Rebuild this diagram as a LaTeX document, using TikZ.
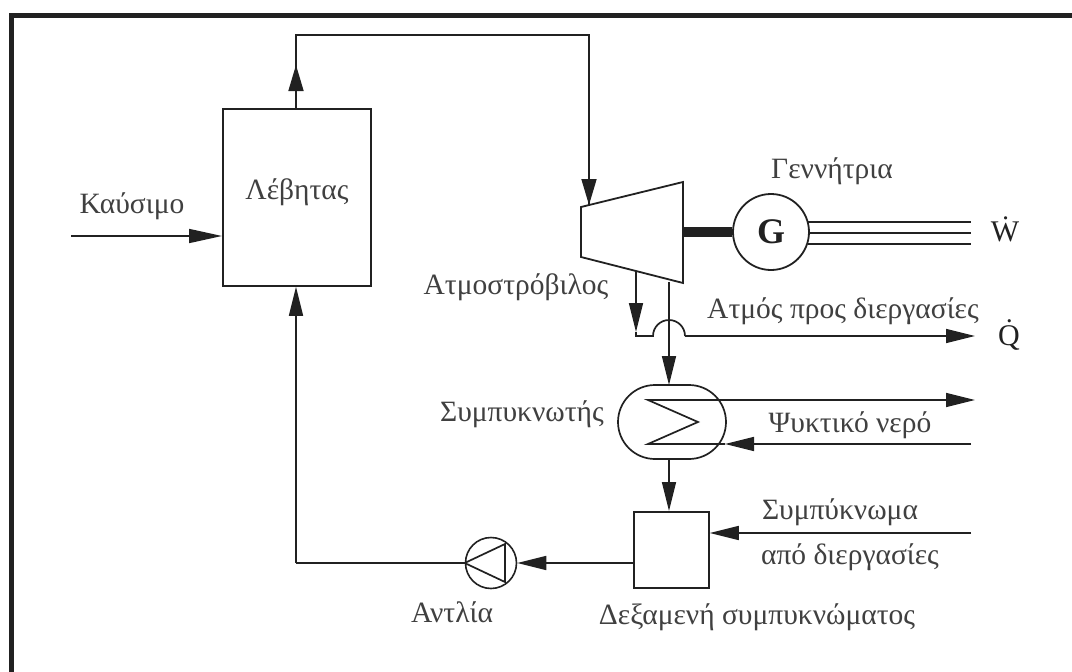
\documentclass[tikz,border=0pt]{standalone}
\usepackage{fontspec}
\setmainfont{Liberation Serif}
\usetikzlibrary{arrows.meta}
\definecolor{ink}{gray}{0.13}
\definecolor{txt}{gray}{0.25}
\tikzset{
  x=1pt,y=-1pt,
  line/.style={draw=ink,line width=1.7pt},
  flow/.style={line,-{Triangle[length=29pt,width=14pt,fill=ink]}},
  box/.style={draw=ink,line width=1.8pt,fill=white,inner sep=0pt,anchor=north west},
  lab/.style={text=txt,font=\fontsize{29.5}{31}\selectfont,inner sep=0pt},
  dotvar/.style={text=ink,font=\fontsize{30}{32}\selectfont,inner sep=0pt}
}
\begin{document}
\begin{tikzpicture}
\useasboundingbox (0,0) rectangle (1072,672);
\fill[white] (0,0) rectangle (1072,672);
\draw[ink,line width=5pt] (11,672) -- (11,15.5) -- (1072,15.5);
% boxes
\node[box,minimum width=148pt,minimum height=177pt] (boiler) at (222,108) {};
\node[box,minimum width=75pt,minimum height=76pt] (tank) at (633,511) {};
% turbine
\draw[line,line width=1.8pt,fill=white] (581,207) -- (683,182) -- (683,283) -- (581,257) -- cycle;
\coordinate (tin) at (589,205);
\coordinate (tsh) at (683,232);
\coordinate (tb1) at (636,272);
\coordinate (tb2) at (669,282);
% generator
\node[draw=ink,line width=1.8pt,circle,minimum size=76pt,inner sep=0pt,font=\bfseries\fontsize{36}{38}\selectfont,text=ink] (gen) at (771,232) {G};
\coordinate (w1) at (971,222);
\coordinate (w2) at (971,233);
\coordinate (w3) at (971,244);
% condenser
\draw[line,fill=white,rounded corners=37pt] (618,385) rectangle (726,459);
\coordinate (condtop) at (669,385);
\coordinate (condbot) at (669,459);
% coil
\coordinate (c1) at (648,400);
\coordinate (c2) at (698,422);
\coordinate (c3) at (648,444);
% pump
\node[draw=ink,line width=1.6pt,circle,minimum size=51pt,inner sep=0pt] (pump) at (491,563) {};
\draw[line] (pump.west) -- (505,544) -- (505,582) -- cycle;
% free ends
\coordinate (fuel) at (71,236);
\coordinate (top1) at (296,35);
\coordinate (top2) at (589,35);
\coordinate (bend) at (296,65);
\coordinate (qc) at (636,336);
\coordinate (qtip) at (636,332);
\coordinate (qj) at (653,336);
\coordinate (qk) at (685,336);
\coordinate (qend) at (975,336);
\coordinate (cwout) at (975,400);
\coordinate (cwin) at (971,444);
\coordinate (cwt) at (725,444);
\coordinate (cond) at (971,533);
\coordinate (ret) at (296,563);
% connectors
\draw[flow,{Triangle[length=33pt,width=14pt,fill=ink]}-] (boiler.west |- fuel) -- (fuel);
\draw[line] (boiler.north -| top1) -- (top1) -- (top2) -- (tin);
\draw[flow,-{Triangle[length=26pt,width=15pt,fill=ink]}] (boiler.north -| top1) ++(0,-17) -- (bend);
\draw[flow,-{Triangle[length=26pt,width=15pt,fill=ink]}] (top2) -- (tin);
\draw[draw=ink,line width=10pt] (tsh) -- (gen.west |- tsh);
\draw[line] (808,222) -- (w1);
\draw[line] (809,233) -- (w2);
\draw[line] (808,244) -- (w3);
\draw[flow] (tb1) -- (qtip);
\draw[line] (qtip) -- (qc) -- (qj) arc[start angle=180,end angle=360,radius=16] -- (qk);
\draw[flow] (qk) -- (qend);
\draw[flow] (tb2) -- (condtop);
\draw[line] (cwt) -- (c3) -- (c2) -- (c1) -- (725,400);
\draw[flow] (725,400) -- (cwout);
\draw[flow] (cwin) -- (cwt);
\draw[flow] (condbot) -- (tank.north -| condbot);
\draw[flow] (cond) -- (tank.east |- cond);
\draw[flow] (tank.west |- pump) -- (pump.east);
\draw[line] (pump.west) -- (ret);
\draw[flow] (ret) -- (boiler.south -| ret);
% labels
\node[lab] (l1) at (297,192) {Λέβητας};
\node[lab] (l2) at (132,206) {Καύσιμο};
\node[lab] (l3) at (832,171) {Γεννήτρια};
\node[lab] (l4) at (516,287) {Ατμοστρόβιλος};
\node[lab] (l5) at (843,311) {Ατμός προς διεργασίες};
\node[lab] (l6) at (522,414) {Συμπυκνωτής};
\node[lab] (l7) at (850,425) {Ψυκτικό νερό};
\node[lab] (l8) at (840,512) {Συμπύκνωμα};
\node[lab] (l9) at (850,557) {από διεργασίες};
\node[lab] (l10) at (757,617) {Δεξαμενή συμπυκνώματος};
\node[lab] (l11) at (452,612) {Αντλία};
\node[dotvar] (w) at (1005,229) {\.W};
\node[dotvar] (q) at (1009,335) {\.Q};
\end{tikzpicture}
\end{document}
